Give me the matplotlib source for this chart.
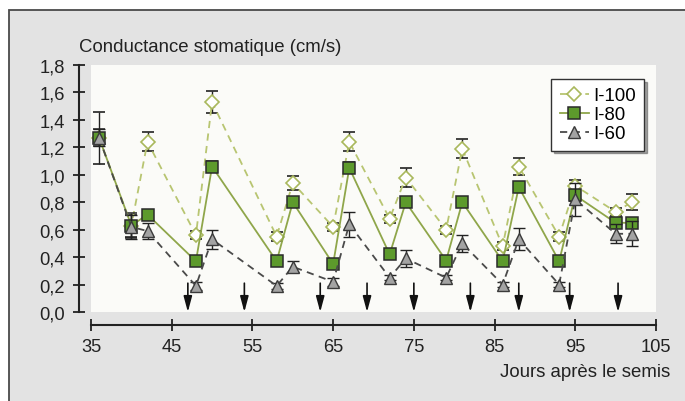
import matplotlib
matplotlib.use("Agg")
import matplotlib.pyplot as plt
from matplotlib.patches import Rectangle
from matplotlib.lines import Line2D
from matplotlib.ticker import FuncFormatter

plt.rcParams['font.family'] = ['Liberation Sans', 'DejaVu Sans']

# Données
jours = [36, 40, 42, 48, 50, 58, 60, 65, 67, 72, 74, 79, 81, 86, 88, 93, 95, 100, 102]
i100 = [1.27, 0.63, 1.24, 0.56, 1.53, 0.55, 0.94, 0.62, 1.24, 0.68, 0.98, 0.60, 1.19, 0.48, 1.06, 0.55, 0.92, 0.73, 0.80]
i80 = [1.27, 0.63, 0.71, 0.37, 1.06, 0.37, 0.80, 0.35, 1.05, 0.42, 0.80, 0.375, 0.80, 0.37, 0.91, 0.37, 0.85, 0.65, 0.65]
i60 = [1.27, 0.62, 0.59, 0.19, 0.53, 0.19, 0.33, 0.22, 0.64, 0.25, 0.39, 0.25, 0.50, 0.20, 0.53, 0.20, 0.82, 0.57, 0.57]
err100 = [0.19, 0.08, 0.07, 0.03, 0.08, 0.03, 0.05, 0.03, 0.07, 0.03, 0.07, 0.03, 0.07, 0.03, 0.06, 0.03, 0.04, 0.03, 0.06]
err80 = [0.06, 0.09, 0.03, 0.02, 0.04, 0.02, 0.03, 0.02, 0.04, 0.02, 0.03, 0.02, 0.03, 0.02, 0.03, 0.02, 0.04, 0.03, 0.03]
err60 = [0.06, 0.09, 0.06, 0.03, 0.07, 0.02, 0.04, 0.03, 0.09, 0.02, 0.06, 0.02, 0.06, 0.02, 0.08, 0.02, 0.12, 0.07, 0.09]
irrigations = [47, 54, 63.4, 69.2, 75, 82, 88, 94.3, 100.3]

W, H = 685, 402
fig = plt.figure(figsize=(W / 100, H / 100), dpi=100)
fig.patch.set_facecolor('white')

# cadre gris
fig.add_artist(Rectangle((9 / W, -0.1), 1.2, 1 - 11 / H + 0.1, transform=fig.transFigure,
                         facecolor='#e3e3e3', edgecolor='#4a4a4a', lw=1.3, zorder=0))

ax = fig.add_axes([91 / W, (H - 313) / H, 565 / W, 247 / H])
ax.set_facecolor('#fbfbf8')
ax.set_xlim(35, 105)
ax.set_ylim(0, 1.8)

ekw = dict(ecolor='#222222', elinewidth=1.0, capsize=4.3, capthick=1.0)
st100 = dict(color='#b8c571', ls=(0, (4, 3)), lw=1.3, marker='D', ms=7,
             mfc='white', mec='#a9b85c', mew=1.2)
st80 = dict(color='#8fa64a', ls='-', lw=1.3, marker='s', ms=8.5,
            mfc='#5d9a2c', mec='#2a2a2a', mew=1.1)
st60 = dict(color='#4a4a4a', ls=(0, (4, 3)), lw=1.3, marker='^', ms=8.5,
            mfc='#a3a3a3', mec='#3a3a3a', mew=1.0)

ax.errorbar(jours, i100, yerr=err100, zorder=2, **st100, **ekw)
ax.errorbar(jours, i80, yerr=err80, zorder=3, **st80, **ekw)
ax.errorbar(jours, i60, yerr=err60, zorder=4, **st60, **ekw)

# flèches des irrigations
for d in irrigations:
    ax.annotate('', xy=(d, 0.0), xytext=(d, 0.21), annotation_clip=False,
                arrowprops=dict(arrowstyle='-|>,head_length=0.67,head_width=0.18',
                                color='#111111', lw=1.2, mutation_scale=14,
                                shrinkA=0, shrinkB=0))

for s in ['top', 'right']:
    ax.spines[s].set_visible(False)
ax.spines['left'].set_position(('outward', 8.6))
ax.spines['bottom'].set_position(('outward', 9.4))
ax.spines['left'].set_bounds(0, 1.8)
ax.spines['bottom'].set_bounds(35, 105)
for s in ['left', 'bottom']:
    ax.spines[s].set_linewidth(1.5)
    ax.spines[s].set_color('#222222')

ax.set_xticks(range(35, 106, 10))
ax.set_yticks([i / 5 for i in range(10)])
ax.yaxis.set_major_formatter(FuncFormatter(lambda v, p: f'{v:.1f}'.replace('.', ',')))
ax.tick_params(axis='both', direction='inout', length=8.6, width=1.3, color='#222222',
               labelsize=13.2, labelcolor='#222222')
ax.tick_params(axis='y', pad=6)
ax.tick_params(axis='x', pad=5)

fig.text(79 / W, 1 - 48 / H, 'Conductance stomatique (cm/s)', fontsize=13.4,
         color='#222222', ha='left', va='center')
fig.text(670 / W, 1 - 373 / H, 'Jours après le semis', fontsize=13.4,
         color='#222222', ha='right', va='center')

handles = [Line2D([], [], **st100), Line2D([], [], **st80), Line2D([], [], **st60)]
leg = ax.legend(handles, ['I-100', 'I-80', 'I-60'], loc='upper right',
                bbox_to_anchor=(0.979, 0.943), borderaxespad=0,
                fontsize=13.4, frameon=True, fancybox=False, shadow=True,
                handlelength=1.6, handletextpad=0.2, labelspacing=0.1, borderpad=0.45)
leg.get_frame().set_edgecolor('#333333')
leg.get_frame().set_linewidth(1.0)
leg.get_frame().set_facecolor('white')

fig.savefig('out.png', dpi=100)
